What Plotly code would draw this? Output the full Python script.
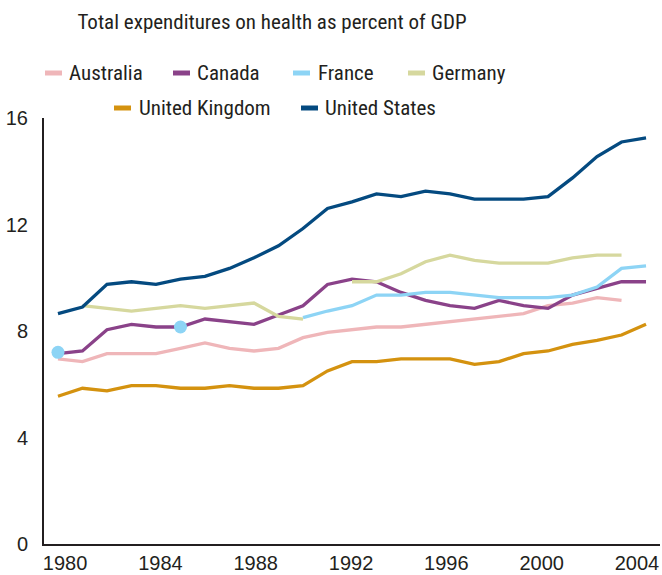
import plotly.graph_objects as go

# ---- data (percent of GDP) ----
years = list(range(1980, 2005))

australia = [6.95, 6.85, 7.15, 7.15, 7.15, 7.35, 7.55, 7.35, 7.25, 7.35, 7.75, 7.95,
             8.05, 8.15, 8.15, 8.25, 8.35, 8.45, 8.55, 8.65, 8.95, 9.05, 9.25, 9.15, None]
canada = [7.15, 7.25, 8.05, 8.25, 8.15, 8.15, 8.45, 8.35, 8.25, 8.6, 8.95, 9.75,
          9.95, 9.85, 9.45, 9.15, 8.95, 8.85, 9.15, 8.95, 8.85, 9.35, 9.6, 9.85, 9.85]
france = [7.2, None, None, None, None, 8.15, None, None, None, None, 8.5, 8.75,
          8.95, 9.35, 9.35, 9.45, 9.45, 9.35, 9.25, 9.25, 9.25, 9.35, 9.65, 10.35, 10.45]
germany = [None, 8.95, 8.85, 8.75, 8.85, 8.95, 8.85, 8.95, 9.05, 8.55, 8.45, None,
           9.85, 9.85, 10.15, 10.6, 10.85, 10.65, 10.55, 10.55, 10.55, 10.75, 10.85, 10.85, None]
united_kingdom = [5.55, 5.85, 5.75, 5.95, 5.95, 5.85, 5.85, 5.95, 5.85, 5.85, 5.95, 6.5,
                  6.85, 6.85, 6.95, 6.95, 6.95, 6.75, 6.85, 7.15, 7.25, 7.5, 7.65, 7.85, 8.25]
united_states = [8.65, 8.9, 9.75, 9.85, 9.75, 9.95, 10.05, 10.35, 10.75, 11.2, 11.85, 12.6,
                 12.85, 13.15, 13.05, 13.25, 13.15, 12.95, 12.95, 12.95, 13.05, 13.75, 14.55, 15.1, 15.25]

series_names = ["Australia", "Canada", "France", "Germany", "United Kingdom", "United States"]
series_values = [australia, canada, france, germany, united_kingdom, united_states]
colors = ["#efb6b9", "#8a4289", "#8dd4f5", "#d6d89e", "#d4920f", "#044a80"]

x_tick_labels = ["1980", "1984", "1988", "1992", "1996", "2000", "2004"]
y_tick_vals = [0, 4, 8, 12, 16]

FONT = "Liberation Sans, Arial, sans-serif"
NARROW = "Roboto Condensed, Liberation Sans, sans-serif"
TEXT = "#231f20"

W, H = 662, 575
ML, MR, MT, MB = 44, 2, 118, 31
PW, PH = W - ML - MR, H - MT - MB


def paper_x(px):
    return (px - ML) / PW


def paper_y(py):
    return (H - MB - py) / PH


fig = go.Figure()

for name, vals, color in zip(series_names, series_values, colors):
    fig.add_trace(
        go.Scatter(
            x=years, y=vals, mode="lines", name=name,
            line=dict(color=color, width=3.3),
            connectgaps=False, showlegend=False,
        )
    )
    # isolated observations are shown as dots
    iso_x, iso_y = [], []
    for i, v in enumerate(vals):
        prev_v = vals[i - 1] if i > 0 else None
        next_v = vals[i + 1] if i < len(vals) - 1 else None
        if v is not None and prev_v is None and next_v is None:
            iso_x.append(years[i])
            iso_y.append(v)
    if iso_x:
        fig.add_trace(
            go.Scatter(
                x=iso_x, y=iso_y, mode="markers", name=name,
                marker=dict(color=color, size=13),
                showlegend=False,
            )
        )

# hand-placed legend (short line swatches, two centred rows)
legend_rows = [
    (73, [(45, 67), (173, 195), (293, 316), (408, 430)]),
    (108, [(114, 137), (301, 323)]),
]
shapes, annotations = [], []
k = 0
for row_y, items in legend_rows:
    for sym_x, text_x in items:
        shapes.append(dict(
            type="line", xref="paper", yref="paper",
            x0=paper_x(sym_x), x1=paper_x(sym_x + 17),
            y0=paper_y(row_y), y1=paper_y(row_y),
            line=dict(color=colors[k], width=5),
        ))
        annotations.append(dict(
            text=series_names[k], xref="paper", yref="paper",
            x=paper_x(text_x), y=paper_y(row_y),
            xanchor="left", yanchor="middle", showarrow=False,
            font=dict(family=NARROW, size=21, color=TEXT),
        ))
        k += 1

x_tick_pos = [1980.29 + i * 3.89 for i in range(len(x_tick_labels))]

fig.update_layout(
    width=W,
    height=H,
    margin=dict(l=ML, r=MR, t=MT, b=MB),
    paper_bgcolor="white",
    plot_bgcolor="white",
    font=dict(family=FONT, color=TEXT),
    title=dict(
        text="Total expenditures on health as percent of GDP",
        x=272 / W, xanchor="center", xref="container",
        y=1 - 22 / H, yanchor="middle", yref="container",
        font=dict(family=NARROW, size=21, color=TEXT),
    ),
    shapes=shapes,
    annotations=annotations,
    xaxis=dict(
        range=[1979.43, 2004.57],
        showline=True, linewidth=2, linecolor=TEXT,
        showgrid=False, zeroline=False, automargin=False,
        tickmode="array", tickvals=x_tick_pos, ticktext=x_tick_labels,
        ticks="", ticklabelstandoff=0,
        tickfont=dict(family=FONT, size=20, color=TEXT),
    ),
    yaxis=dict(
        range=[0, 16],
        showline=True, linewidth=2, linecolor=TEXT,
        showgrid=False, zeroline=False, automargin=False,
        tickmode="array", tickvals=y_tick_vals,
        ticks="", ticklabelstandoff=10,
        tickfont=dict(family=FONT, size=20, color=TEXT),
    ),
)

# the page's default body margin would shift the 662x575 figure off the window
fig.write_html(
    "out.html",
    config={"displayModeBar": False},
    post_script="document.body.style.margin='0';",
)
